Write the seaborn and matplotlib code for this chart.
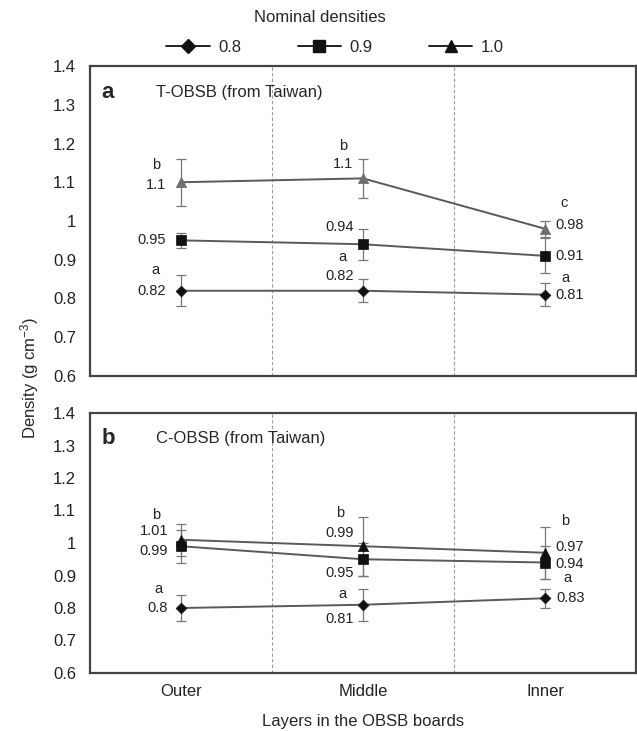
import matplotlib
matplotlib.use("Agg")
import matplotlib.pyplot as plt
from matplotlib.lines import Line2D
import seaborn as sns
import pandas as pd

# === DATA ===
layers = ["Outer", "Middle", "Inner"]
nominal = ["0.8", "0.9", "1.0"]

# panel a: T-OBSB
a_08 = [0.82, 0.82, 0.81]
a_09 = [0.95, 0.94, 0.91]
a_10 = [1.10, 1.11, 0.98]
a_08_err = [0.04, 0.03, 0.03]
a_09_err = [0.02, 0.04, 0.045]
a_10_err = [0.06, 0.05, 0.02]

# panel b: C-OBSB
b_08 = [0.80, 0.81, 0.83]
b_09 = [0.99, 0.95, 0.94]
b_10 = [1.01, 0.99, 0.97]
b_08_err = [0.04, 0.05, 0.03]
b_09_err = [0.05, 0.05, 0.05]
b_10_err = [0.05, 0.09, 0.08]

# value labels and significance letters: (series, layer, text)
a_labels = [
    ("1.0", "Outer", "1.1"), ("1.0", "Outer", "b"),
    ("0.9", "Outer", "0.95"),
    ("0.8", "Outer", "0.82"), ("0.8", "Outer", "a"),
    ("1.0", "Middle", "1.1"), ("1.0", "Middle", "b"),
    ("0.9", "Middle", "0.94"),
    ("0.8", "Middle", "0.82"), ("0.8", "Middle", "a"),
    ("1.0", "Inner", "0.98"), ("1.0", "Inner", "c"),
    ("0.9", "Inner", "0.91"),
    ("0.8", "Inner", "0.81"), ("0.8", "Inner", "a"),
]
b_labels = [
    ("1.0", "Outer", "1.01"), ("1.0", "Outer", "b"),
    ("0.9", "Outer", "0.99"),
    ("0.8", "Outer", "0.8"), ("0.8", "Outer", "a"),
    ("1.0", "Middle", "0.99"), ("1.0", "Middle", "b"),
    ("0.9", "Middle", "0.95"),
    ("0.8", "Middle", "0.81"), ("0.8", "Middle", "a"),
    ("1.0", "Inner", "0.97"), ("1.0", "Inner", "b"),
    ("0.9", "Inner", "0.94"),
    ("0.8", "Inner", "0.83"), ("0.8", "Inner", "a"),
]
# label offsets in pixels (style only)
a_offsets = [(-15, -3), (-25, 17), (-15, 0), (-15, 0), (-26, 21),
             (-10, 14), (-20, 32), (-9, 17), (-9, 15), (-21, 34),
             (10, 4), (19, 26), (10, 0), (10, 0), (20, 17)]
b_offsets = [(-13, 9), (-25, 25), (-13, -5), (-13, 0), (-23, 19),
             (-9, 13), (-23, 33), (-9, -14), (-9, -14), (-21, 11),
             (10, 6), (20, 32), (10, -2), (11, 0), (22, 20)]

# === STYLE ===
sns.set_style("white")
plt.rcParams["font.family"] = ["Liberation Sans", "DejaVu Sans"]
plt.rcParams["mathtext.fontset"] = "custom"
plt.rcParams["mathtext.rm"] = "Liberation Sans"
plt.rcParams["mathtext.it"] = "Liberation Sans"

markers = {"0.8": "D", "0.9": "s", "1.0": "^"}
marker_sizes = {"0.8": 30, "0.9": 55, "1.0": 55}
LINE_COLOR = "#5a5a5a"
ERR_COLOR = "#777777"

fig = plt.figure(figsize=(6.37, 7.31), dpi=100)
W, H = 637, 731
ax_a = fig.add_axes([90 / W, 1 - 376 / H, 546 / W, 310 / H])
ax_b = fig.add_axes([90 / W, 1 - 673 / H, 546 / W, 260 / H])


def draw_panel(ax, vals, errs, marker_colors, labels, offsets, letter, title):
    df = pd.DataFrame({
        "layer": layers * 3,
        "density": vals[0] + vals[1] + vals[2],
        "err": errs[0] + errs[1] + errs[2],
        "nominal": [n for n in nominal for _ in layers],
    })
    df["layer"] = pd.Categorical(df["layer"], categories=layers)
    df["x"] = df["layer"].cat.codes

    for n in nominal:
        sub = df[df["nominal"] == n]
        ax.errorbar(sub["x"], sub["density"], yerr=sub["err"], fmt="none",
                    ecolor=ERR_COLOR, elinewidth=0.9, capsize=3.5,
                    capthick=0.9, zorder=2)
    sns.lineplot(data=df, x="x", y="density", hue="nominal",
                 palette={n: LINE_COLOR for n in nominal}, sort=False,
                 linewidth=1.4, legend=False, ax=ax, zorder=3)
    for n in nominal:
        sub = df[df["nominal"] == n]
        sns.scatterplot(data=sub, x="x", y="density", marker=markers[n],
                        s=marker_sizes[n], color=marker_colors[n],
                        edgecolor=marker_colors[n], linewidth=0.5,
                        legend=False, ax=ax, zorder=4)

    for (series, layer, txt), (dx, dy) in zip(labels, offsets):
        row = df[(df["nominal"] == series) & (df["layer"] == layer)].iloc[0]
        if txt.isalpha():
            ha = "center"
        else:
            ha = "right" if dx < 0 else "left"
        ax.annotate(txt, (row["x"], row["density"]), xytext=(dx, dy),
                    textcoords="offset pixels", ha=ha, va="center",
                    fontsize=10.5, color="#222222")

    for xv in (0.5, 1.5):
        ax.axvline(xv, color="#9a9a9a", lw=0.8, ls=(0, (3, 2)), zorder=1)

    ax.set_xlim(-0.5, 2.5)
    ax.set_ylim(0.6, 1.4)
    ax.set_yticks([0.6, 0.7, 0.8, 0.9, 1.0, 1.1, 1.2, 1.3, 1.4])
    ax.set_yticklabels(["0.6", "0.7", "0.8", "0.9", "1", "1.1", "1.2", "1.3", "1.4"])
    ax.set_xticks([0, 1, 2])
    ax.set_xlabel("")
    ax.set_ylabel("")
    ax.tick_params(axis="both", length=0, labelsize=12, pad=10, colors="#222222")
    for sp in ax.spines.values():
        sp.set_color("#444444")
        sp.set_linewidth(1.6)

    ty = 0.915 if letter == "a" else 0.9
    ax.text(0.033, ty, letter, transform=ax.transAxes,
            fontsize=16, fontweight="bold", ha="center", va="center")
    ax.text(0.12, ty, title, transform=ax.transAxes,
            fontsize=12, ha="left", va="center")


draw_panel(ax_a, [a_08, a_09, a_10], [a_08_err, a_09_err, a_10_err],
           {"0.8": "#111111", "0.9": "#111111", "1.0": "#6e6e6e"},
           a_labels, a_offsets, "a", "T-OBSB (from Taiwan)")
draw_panel(ax_b, [b_08, b_09, b_10], [b_08_err, b_09_err, b_10_err],
           {"0.8": "#111111", "0.9": "#111111", "1.0": "#111111"},
           b_labels, b_offsets, "b", "C-OBSB (from Taiwan)")

ax_a.set_xticklabels([])
ax_b.set_xticklabels(layers)
ax_b.tick_params(axis="x", pad=8)
ax_b.set_xlabel("Layers in the OBSB boards", fontsize=12, labelpad=11)

# === LEGEND ===
handles = [Line2D([0], [0], color="#222222", lw=1.4, marker=markers[n],
                  markersize=8 if n != "0.8" else 7, markerfacecolor="#111111",
                  markeredgecolor="#111111") for n in nominal]
fig.legend(handles, nominal, loc="center", bbox_to_anchor=(335 / W, 1 - 47 / H),
           ncol=3, frameon=False, fontsize=12, handlelength=2.6,
           columnspacing=3.4, handletextpad=0.5)
fig.text(320 / W, 1 - 17 / H, "Nominal densities", ha="center", va="center",
         fontsize=12)
fig.text(30 / W, 1 - 378 / H, "Density (g cm$^{-3}$)", rotation=90,
         ha="center", va="center", fontsize=12)

fig.savefig("out.png", dpi=100)
